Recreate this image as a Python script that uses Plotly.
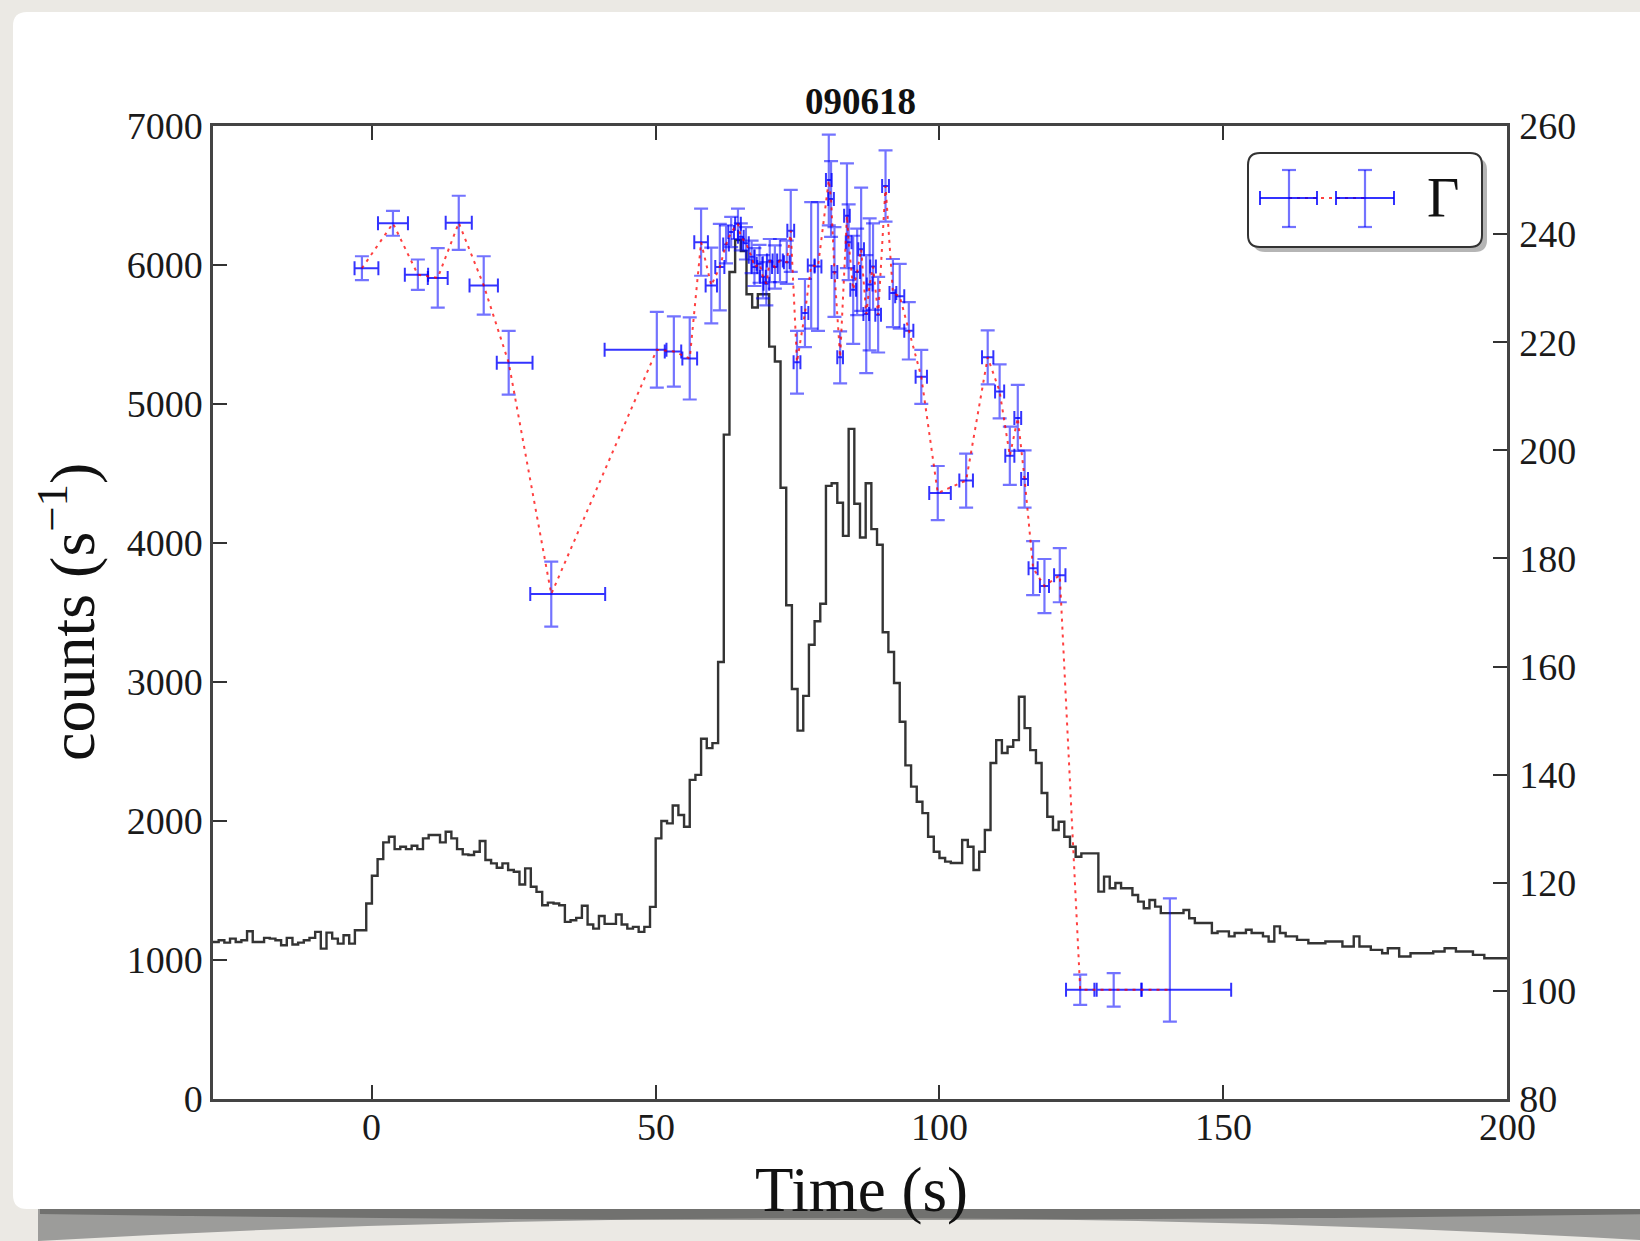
import numpy as np
import plotly.graph_objects as go

# ---------------- data ----------------
# Light curve: 1 s bins, left edges from -28 s
BIN_START = -28
BIN_WIDTH = 1
counts = [
    1130, 1142, 1125, 1154, 1130, 1142, 1207, 1130, 1130, 1159,
    1154, 1142, 1106, 1159, 1111, 1125, 1142, 1159, 1202, 1082,
    1197, 1154, 1118, 1178, 1118, 1214, 1214, 1406, 1606, 1726,
    1846, 1887, 1798, 1815, 1798, 1822, 1798, 1875, 1899, 1899,
    1846, 1923, 1875, 1798, 1760, 1755, 1779, 1856, 1719, 1695,
    1664, 1695, 1647, 1635, 1543, 1659, 1527, 1490, 1394, 1413,
    1406, 1394, 1274, 1286, 1303, 1390, 1255, 1226, 1317, 1260,
    1260, 1327, 1255, 1226, 1238, 1202, 1238, 1382, 1875, 2000,
    1983, 2111, 2043, 1959, 2296, 2332, 2592, 2524, 2560, 3144,
    4780, 5950, 6180, 6100, 5790, 5694, 5790, 5790, 5413, 5306,
    4397, 3552, 2950, 2650, 2900, 3268, 3437, 3563, 4411, 4430,
    4290, 4051, 4821, 4282, 4040, 4430, 4100, 3987, 3358, 3216,
    2993, 2714, 2400, 2247, 2139, 2057, 1887, 1779, 1734, 1708,
    1698, 1698, 1863, 1815, 1648, 1779, 1935, 2417, 2582, 2489,
    2534, 2582, 2894, 2668, 2510, 2417, 2201, 2031, 1935, 1995,
    1887, 1815, 1743, 1767, 1767, 1767, 1492, 1600, 1516, 1554,
    1516, 1516, 1468, 1420, 1372, 1432, 1384, 1337, 1337, 1337,
    1337, 1360, 1300, 1266, 1266, 1266, 1194, 1206, 1206, 1170,
    1194, 1194, 1218, 1194, 1194, 1170, 1133, 1242, 1194, 1170,
    1170, 1145, 1145, 1121, 1121, 1121, 1133, 1133, 1133, 1097,
    1097, 1170, 1097, 1097, 1073, 1073, 1049, 1085, 1085, 1025,
    1025, 1049, 1049, 1049, 1049, 1061, 1061, 1085, 1085, 1061,
    1061, 1061, 1037, 1037, 1013, 1013, 1013, 1013,
]

# Lorentz factor Gamma per time-resolved interval
gamma_t = [
    -1.76, 3.71, 8.1, 11.6, 15.3, 19.7, 24.1, 31.6, 50.2, 53.2,
    56.0, 58.0, 59.8, 61.3, 62.4, 63.3, 64.5, 65.0, 65.9, 66.9,
    67.4, 68.3, 68.9, 69.5, 70.1, 71.0, 71.9, 73.1, 73.8, 74.9,
    76.3, 77.4, 78.6, 80.5, 80.9, 81.5, 82.5, 83.7, 84.0, 84.8,
    85.5, 86.2, 87.1, 87.7, 88.3, 89.2, 90.5, 91.8, 93.0, 94.6,
    96.8, 99.7, 104.7, 108.5, 110.6, 112.4, 113.8, 115.0, 116.5, 118.5,
    121.2, 124.8, 130.7, 140.6,
]
gamma = [
    233.7, 242.0, 232.5, 231.9, 242.1, 230.5, 216.2, 173.4, 218.6, 218.3,
    217.0, 238.5, 230.5, 233.9, 238.1, 240.4, 241.9, 239.5, 238.3, 235.8,
    233.9, 234.5, 232.1, 230.8, 235.1, 233.9, 235.1, 234.8, 240.6, 216.3,
    225.4, 234.2, 234.0, 250.0, 246.5, 233.0, 217.2, 243.4, 238.5, 229.7,
    233.0, 237.2, 225.2, 230.7, 234.0, 225.1, 248.9, 229.1, 228.5, 222.1,
    213.6, 192.1, 194.4, 217.2, 210.9, 199.0, 206.0, 194.7, 178.2, 174.9,
    176.9, 100.2, 100.2, 100.2,
]
t_err_minus = [
    1.3, 2.64, 2.3, 1.75, 2.3, 2.5, 2.1, 3.7, 9.2, 1.6,
    1.3, 1.2, 1.0, 0.8, 0.5, 0.5, 0.5, 0.5, 0.5, 0.5,
    0.5, 0.5, 0.5, 0.5, 0.5, 0.5, 0.5, 0.5, 0.6, 0.6,
    0.6, 0.6, 0.6, 0.5, 0.5, 0.5, 0.5, 0.5, 0.5, 0.5,
    0.5, 0.5, 0.5, 0.5, 0.5, 0.5, 0.6, 0.6, 0.8, 0.8,
    1.0, 1.5, 1.2, 1.0, 0.8, 0.8, 0.6, 0.6, 0.8, 0.8,
    1.0, 2.5, 3.0, 5.0,
]
t_err_plus = [
    2.9, 2.64, 1.8, 1.75, 2.3, 2.5, 4.2, 9.5, 1.7, 1.3,
    1.3, 1.2, 1.0, 0.8, 0.5, 0.5, 0.5, 0.5, 0.5, 0.5,
    0.5, 0.5, 0.5, 0.5, 0.5, 0.5, 0.5, 0.5, 0.6, 0.6,
    0.6, 0.6, 0.6, 0.5, 0.5, 0.5, 0.5, 0.5, 0.5, 0.5,
    0.5, 0.5, 0.5, 0.5, 0.5, 0.5, 0.6, 0.6, 0.8, 0.8,
    1.0, 2.3, 1.2, 1.0, 0.8, 0.8, 0.6, 0.6, 0.8, 0.8,
    1.0, 2.5, 4.9, 10.8,
]
gamma_err_minus = [
    2.2, 2.3, 2.8, 5.5, 5.0, 5.4, 5.9, 6.0, 7.0, 6.5,
    7.6, 6.2, 7.0, 8.0, 3.5, 2.8, 2.8, 2.5, 3.0, 3.0,
    3.5, 3.5, 4.0, 4.0, 4.0, 4.0, 4.0, 4.0, 7.6, 5.8,
    6.3, 11.7, 11.9, 8.4, 7.0, 8.3, 4.8, 9.7, 7.0, 10.0,
    8.0, 11.4, 10.9, 12.2, 8.0, 7.0, 6.6, 6.3, 6.0, 5.3,
    5.0, 5.0, 5.0, 5.0, 5.0, 5.4, 6.1, 5.3, 5.0, 5.0,
    5.0, 2.8, 3.1, 5.9,
]
gamma_err_plus = gamma_err_minus[:-1] + [16.9]

title_text = "090618"
x_ticks = [0, 50, 100, 150, 200]

# ---------------- geometry helpers (pixel -> paper) ----------------
FIG_W, FIG_H = 1640, 1241
L, R, T, B = 213, 1507, 126, 1099
PW, PH = R - L, B - T


def px(x):
    return (x - L) / PW


def py(y):
    return (B - y) / PH


def pt(x, y):
    return f"{px(x):.5f},{py(y):.5f}"


def rounded_rect(x0, y0, x1, y1, r):
    return (
        f"M {pt(x0 + r, y0)} L {pt(x1 - r, y0)} Q {pt(x1, y0)} {pt(x1, y0 + r)} "
        f"L {pt(x1, y1 - r)} Q {pt(x1, y1)} {pt(x1 - r, y1)} "
        f"L {pt(x0 + r, y1)} Q {pt(x0, y1)} {pt(x0, y1 - r)} "
        f"L {pt(x0, y0 + r)} Q {pt(x0, y0)} {pt(x0 + r, y0)} Z"
    )


# ---------------- traces ----------------
edges = BIN_START + BIN_WIDTH * np.arange(len(counts) + 1)
step_y = list(counts) + [counts[-1]]

fig = go.Figure()

fig.add_trace(go.Scatter(
    x=edges, y=step_y, mode="lines", line_shape="hv",
    line=dict(color="rgba(30,30,30,0.9)", width=2.4),
    hoverinfo="skip", showlegend=False, yaxis="y",
))

fig.add_trace(go.Scatter(
    x=gamma_t, y=gamma, mode="lines",
    line=dict(color="rgba(255,0,0,0.75)", width=2, dash="3px,5px"),
    error_x=dict(type="data", symmetric=False, array=t_err_plus,
                 arrayminus=t_err_minus, color="rgba(0,0,255,0.8)",
                 thickness=2, width=7),
    error_y=dict(type="data", symmetric=False, array=gamma_err_plus,
                 arrayminus=gamma_err_minus, color="rgba(0,0,255,0.55)",
                 thickness=2.2, width=7),
    showlegend=False, yaxis="y2",
))

# ---------------- decorations ----------------
shapes = []
# page background card and its curled shadow
shapes.append(dict(type="path", xref="paper", yref="paper", layer="below",
                   path=(f"M {pt(38, 1204)} L {pt(1660, 1204)} L {pt(1660, 1241)} "
                         f"Q {pt(840, 1195)} {pt(38, 1241)} Z"),
                   fillcolor="#9c9c9a", line=dict(width=0)))
shapes.append(dict(type="path", xref="paper", yref="paper", layer="below",
                   path=(f"M {pt(40, 1204)} L {pt(1660, 1204)} L {pt(1660, 1214)} "
                         f"Q {pt(840, 1226)} {pt(40, 1214)} Z"),
                   fillcolor="rgba(70,70,68,0.5)", line=dict(width=0)))
shapes.append(dict(type="path", xref="paper", yref="paper", layer="below",
                   path=rounded_rect(13, 12, 1665, 1209, 14),
                   fillcolor="#ffffff", line=dict(width=0)))

# legend box with shadow
shapes.append(dict(type="path", xref="paper", yref="paper", layer="above",
                   path=rounded_rect(1253, 158, 1487, 252, 12),
                   fillcolor="rgba(120,120,120,0.55)", line=dict(width=0)))
shapes.append(dict(type="path", xref="paper", yref="paper", layer="above",
                   path=rounded_rect(1248, 153, 1482, 247, 12),
                   fillcolor="#ffffff", line=dict(color="#333333", width=2)))

# legend sample: dotted connector + two error-bar crosses
LEG_Y = 198
shapes.append(dict(type="line", xref="paper", yref="paper", layer="above",
                   x0=px(1289), x1=px(1365), y0=py(LEG_Y), y1=py(LEG_Y),
                   line=dict(color="rgba(255,0,0,0.75)", width=2, dash="3px,5px")))
for cx, hx0, hx1 in [(1289, 1260, 1317), (1365, 1336, 1394)]:
    hb = dict(color="rgba(0,0,255,0.8)", width=2)
    vb = dict(color="rgba(0,0,255,0.55)", width=2.2)
    shapes += [
        dict(type="line", xref="paper", yref="paper", layer="above",
             x0=px(hx0), x1=px(hx1), y0=py(LEG_Y), y1=py(LEG_Y), line=hb),
        dict(type="line", xref="paper", yref="paper", layer="above",
             x0=px(hx0), x1=px(hx0), y0=py(LEG_Y - 7), y1=py(LEG_Y + 7), line=hb),
        dict(type="line", xref="paper", yref="paper", layer="above",
             x0=px(hx1), x1=px(hx1), y0=py(LEG_Y - 7), y1=py(LEG_Y + 7), line=hb),
        dict(type="line", xref="paper", yref="paper", layer="above",
             x0=px(cx), x1=px(cx), y0=py(170), y1=py(227), line=vb),
        dict(type="line", xref="paper", yref="paper", layer="above",
             x0=px(cx - 7), x1=px(cx + 7), y0=py(170), y1=py(170), line=vb),
        dict(type="line", xref="paper", yref="paper", layer="above",
             x0=px(cx - 7), x1=px(cx + 7), y0=py(227), y1=py(227), line=vb),
    ]

SERIF = "Liberation Serif, Times New Roman, serif"
TICK_FONT = dict(family=SERIF, size=38, color="#1a1a1a")

annotations = [
    dict(text=f"<b>{title_text}</b>", xref="paper", yref="paper", x=0.5, y=py(102),
         xanchor="center", yanchor="middle", showarrow=False,
         font=dict(family=SERIF, size=37, color="#111111")),
    dict(text="Time (s)", xref="paper", yref="paper", x=px(861), y=py(1190),
         xanchor="center", yanchor="middle", showarrow=False,
         font=dict(family=SERIF, size=63, color="#111111")),
    dict(text="counts (s<sup>−1</sup>)", xref="paper", yref="paper",
         x=px(67), y=py(612), xanchor="center", yanchor="middle",
         textangle=-90, showarrow=False,
         font=dict(family=SERIF, size=64, color="#111111")),
    dict(text="Γ", xref="paper", yref="paper", x=px(1443), y=py(LEG_Y),
         xanchor="center", yanchor="middle", showarrow=False,
         font=dict(family=SERIF, size=56, color="#111111")),
]
# time-axis tick labels, placed on the x scale just under the frame
for v in x_ticks:
    annotations.append(dict(text=str(v), xref="x", yref="paper", x=v, y=py(1127),
                            xanchor="center", yanchor="middle", showarrow=False,
                            font=TICK_FONT))

axis_common = dict(
    ticks="inside", ticklen=14, tickwidth=2, tickcolor="#333333",
    showline=True, linewidth=2.5, linecolor="#444444",
    showgrid=False, zeroline=False, tickfont=TICK_FONT,
)

fig.update_layout(
    width=FIG_W, height=FIG_H,
    margin=dict(l=L, r=FIG_W - R, t=T, b=FIG_H - B, pad=0),
    paper_bgcolor="#ebe9e4", plot_bgcolor="#ffffff",
    showlegend=False,
    xaxis=dict(range=[-28, 200], tickvals=x_ticks, mirror="ticks",
               showticklabels=False, **axis_common),
    yaxis=dict(range=[0, 7000], dtick=1000, side="left",
               ticklabelstandoff=0, **axis_common),
    yaxis2=dict(range=[80, 260], dtick=20, side="right", overlaying="y",
                ticklabelstandoff=2, **axis_common),
    shapes=shapes,
    annotations=annotations,
)

fig.write_html("out.html")
